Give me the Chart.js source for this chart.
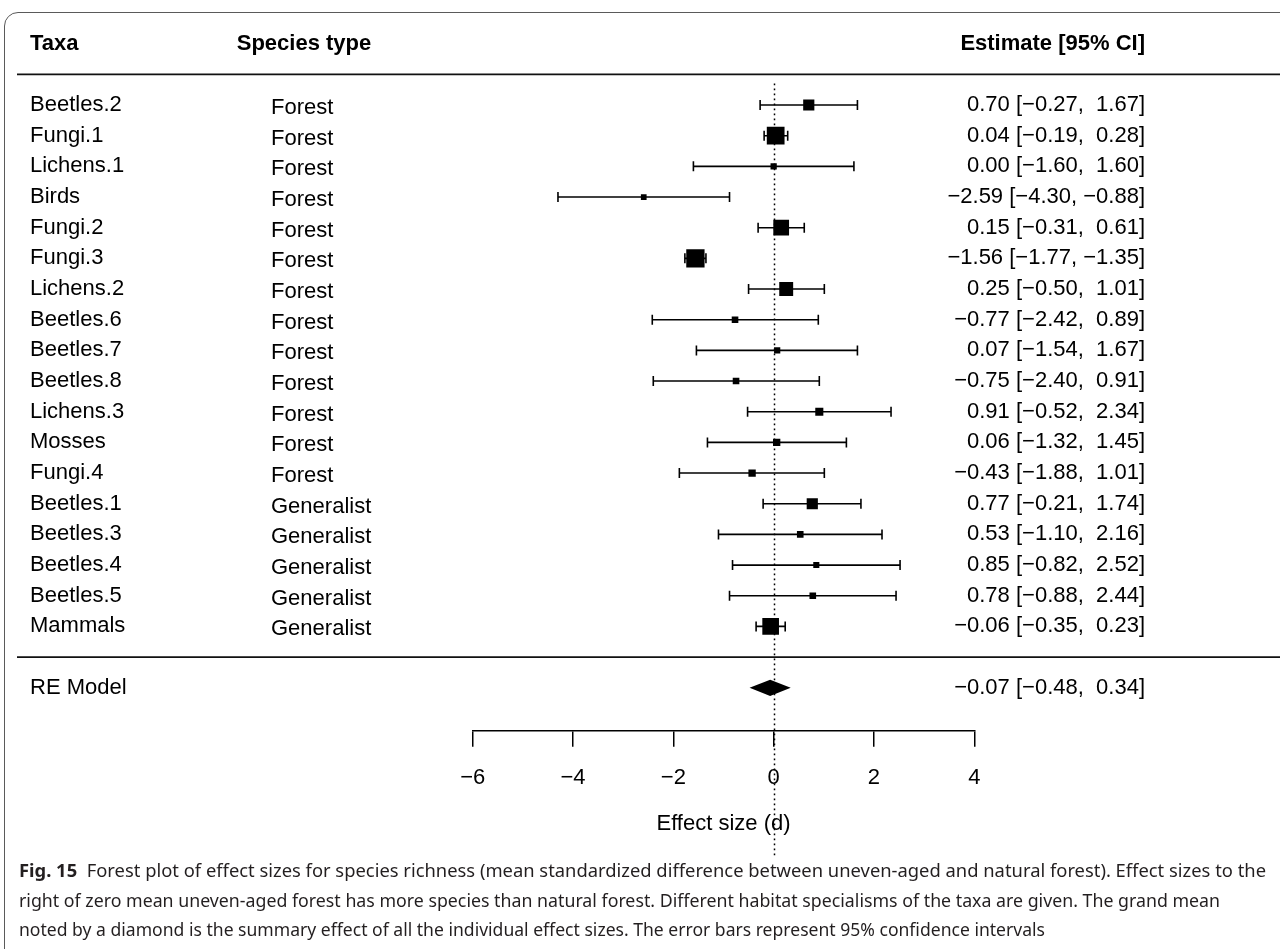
<!DOCTYPE html>
<html>
<head>
<meta charset="utf-8">
<title>Forest plot - species richness</title>
<script src="https://cdn.jsdelivr.net/npm/chart.js@4.4.1/dist/chart.umd.min.js"></script>
<style>
  html, body { margin: 0; padding: 0; background: #fff; overflow: hidden; }
  #page { position: relative; width: 1280px; height: 949px; overflow: hidden; background: #fff; }
  #frame { position: absolute; left: 4px; top: 12px; width: 1320px; height: 1000px;
           border: 1.5px solid #5a5a5a; border-radius: 14px; box-sizing: border-box; }
  #wrap { position: absolute; left: 0; top: 0; width: 1280px; height: 949px; }
  .cl { position: absolute; left: 19px; white-space: nowrap; font-family: "Noto Sans", sans-serif;
        font-size: 18px; line-height: 22px; color: #231f20; transform-origin: 0 50%; }
  .cl b { font-weight: 700; }
</style>
</head>
<body>
<div id="page">
  <div id="frame"></div>
  <div id="wrap"><canvas id="forest"></canvas></div>
  <div class="cl" data-w="1247" style="top:859px"><b>Fig. 15</b>&nbsp; Forest plot of effect sizes for species richness (mean standardized difference between uneven-aged and natural forest). Effect sizes to the</div>
  <div class="cl" data-w="1201" style="top:889px">right of zero mean uneven-aged forest has more species than natural forest. Different habitat specialisms of the taxa are given. The grand mean</div>
  <div class="cl" data-w="1026" style="top:918px">noted by a diamond is the summary effect of all the individual effect sizes. The error bars represent 95% confidence intervals</div>
</div>
<script>
// 各研究（上から順）
const taxa = ['Beetles.2', 'Fungi.1', 'Lichens.1', 'Birds', 'Fungi.2', 'Fungi.3', 'Lichens.2',
  'Beetles.6', 'Beetles.7', 'Beetles.8', 'Lichens.3', 'Mosses', 'Fungi.4',
  'Beetles.1', 'Beetles.3', 'Beetles.4', 'Beetles.5', 'Mammals'];
const speciesType = ['Forest', 'Forest', 'Forest', 'Forest', 'Forest', 'Forest', 'Forest',
  'Forest', 'Forest', 'Forest', 'Forest', 'Forest', 'Forest',
  'Generalist', 'Generalist', 'Generalist', 'Generalist', 'Generalist'];
const estimate = [0.70, 0.04, 0.00, -2.59, 0.15, -1.56, 0.25, -0.77, 0.07, -0.75, 0.91, 0.06, -0.43,
  0.77, 0.53, 0.85, 0.78, -0.06];
const ciLower = [-0.27, -0.19, -1.60, -4.30, -0.31, -1.77, -0.50, -2.42, -1.54, -2.40, -0.52, -1.32, -1.88,
  -0.21, -1.10, -0.82, -0.88, -0.35];
const ciUpper = [1.67, 0.28, 1.60, -0.88, 0.61, -1.35, 1.01, 0.89, 1.67, 0.91, 2.34, 1.45, 1.01,
  1.74, 2.16, 2.52, 2.44, 0.23];
// 重み（%、四角の大きさから読み取り）
const weights = [6.3, 9.9, 3.6, 3.3, 8.8, 10.2, 7.8, 3.8, 3.6, 3.8, 4.6, 4.2, 4.2,
  6.3, 3.8, 3.5, 3.8, 9.3];

// RE モデル（ダイヤ）
const summaryLabel = 'RE Model';
const summaryEstimate = -0.07;
const summaryLower = -0.48;
const summaryUpper = 0.34;

const xTicks = [-6, -4, -2, 0, 2, 4];
const headers = ['Taxa', 'Species type', 'Estimate [95% CI]'];
const xTitle = 'Effect size (d)';

// 書式（R の forest と同じ見た目）
const fmt = v => (v < 0 ? '\u2212' : '') + Math.abs(v).toFixed(2);
const pad = v => (v < 0 ? '' : ' ') + fmt(v);
const ciText = (e, l, h) => `${fmt(e)} [${pad(l)}, ${pad(h)}]`;

const FONT = '"Liberation Sans", Arial, sans-serif';
const summaryRow = taxa.length + 1;

// 四角のサイズ（重みを 0.5〜1.5 相当に線形で割り当て）
const wMin = Math.min(...weights), wMax = Math.max(...weights);
const squareSide = w => 5.7 + (w - wMin) / (wMax - wMin) * 12.6;

// テキスト列・区切り線・参照線・ダイヤ
const forestExtras = {
  id: 'forestExtras',
  beforeDatasetsDraw(chart) {
    const { ctx, scales: { x, y } } = chart;
    const x0 = Math.round(x.getPixelForValue(0)) + 0.5;
    ctx.save();
    ctx.strokeStyle = '#000';
    ctx.lineWidth = 1.5;
    ctx.setLineDash([1.6, 3.4]);
    ctx.beginPath();
    ctx.moveTo(x0, y.getPixelForValue(-0.7));
    ctx.lineTo(x0, y.getPixelForValue(24.55));
    ctx.stroke();
    ctx.restore();
  },
  afterDraw(chart) {
    const { ctx, scales: { x, y } } = chart;
    const colTaxa = 30, colTypeHead = 304, colType = 271, colEst = 1145;
    ctx.save();
    ctx.fillStyle = '#000';
    ctx.textBaseline = 'middle';

    // ヘッダー
    ctx.font = 'bold 22px ' + FONT;
    const yh = y.getPixelForValue(-2);
    ctx.textAlign = 'left'; ctx.fillText(headers[0], colTaxa, yh);
    ctx.textAlign = 'center'; ctx.fillText(headers[1], colTypeHead, yh);
    ctx.textAlign = 'right'; ctx.fillText(headers[2], colEst, yh);

    // 区切り線
    ctx.strokeStyle = '#111';
    ctx.lineWidth = 1.8;
    [-1, taxa.length].forEach(r => {
      const yy = y.getPixelForValue(r);
      ctx.beginPath(); ctx.moveTo(17, yy); ctx.lineTo(1280, yy); ctx.stroke();
    });

    // 各行
    ctx.font = '22px ' + FONT;
    taxa.forEach((t, i) => {
      const yy = y.getPixelForValue(i);
      ctx.textAlign = 'left'; ctx.fillText(t, colTaxa, yy);
      ctx.fillText(speciesType[i], colType, yy + 3);
      ctx.textAlign = 'right'; ctx.fillText(ciText(estimate[i], ciLower[i], ciUpper[i]), colEst, yy);
    });

    // RE Model
    const ys = y.getPixelForValue(summaryRow);
    ctx.textAlign = 'left'; ctx.fillText(summaryLabel, colTaxa, ys);
    ctx.textAlign = 'right'; ctx.fillText(ciText(summaryEstimate, summaryLower, summaryUpper), colEst, ys);

    const hh = y.getPixelForValue(summaryRow + 0.265) - ys;
    ctx.beginPath();
    ctx.moveTo(x.getPixelForValue(summaryLower), ys);
    ctx.lineTo(x.getPixelForValue(summaryEstimate), ys - hh);
    ctx.lineTo(x.getPixelForValue(summaryUpper), ys);
    ctx.lineTo(x.getPixelForValue(summaryEstimate), ys + hh);
    ctx.closePath();
    ctx.fill();
    ctx.restore();
  }
};

const datasets = [
  {
    label: 'Estimate',
    data: estimate.map((v, i) => ({ x: v, y: i })),
    showLine: false,
    pointStyle: 'rect',
    pointRadius: weights.map(w => squareSide(w) / Math.SQRT2),
    pointBackgroundColor: '#000',
    pointBorderWidth: 0
  },
  ...taxa.map((t, i) => ({
    label: t,
    data: [{ x: ciLower[i], y: i }, { x: ciUpper[i], y: i }],
    showLine: true,
    borderColor: '#000',
    borderWidth: 1.6,
    pointStyle: 'line',
    pointRotation: 90,
    pointRadius: 5,
    pointBorderColor: '#000',
    pointBorderWidth: 1.6
  }))
];

new Chart(document.getElementById('forest'), {
  type: 'scatter',
  data: { datasets },
  options: {
    responsive: true,
    maintainAspectRatio: false,
    animation: false,
    events: [],
    layout: { padding: { left: 472.7, right: 305.7, top: 13, bottom: 111.8 } },
    plugins: { legend: { display: false }, tooltip: { enabled: false } },
    scales: {
      x: {
        type: 'linear',
        position: 'bottom',
        min: xTicks[0],
        max: xTicks[xTicks.length - 1],
        afterBuildTicks: s => { s.ticks = xTicks.map(v => ({ value: v })); },
        afterFit: s => { s.height = 106.5; },
        ticks: {
          color: '#000',
          padding: 18,
          maxRotation: 0,
          font: { family: FONT, size: 22 },
          callback: v => (v < 0 ? '\u2212' + Math.abs(v) : String(v))
        },
        grid: { drawOnChartArea: false, drawTicks: true, tickLength: 16, color: '#000', lineWidth: 1.5 },
        border: { display: true, color: '#000', width: 1.5 },
        title: { display: true, text: xTitle, color: '#000', font: { family: FONT, size: 22 }, padding: { top: 0, bottom: 0 } }
      },
      y: {
        type: 'linear',
        display: false,
        reverse: true,
        min: -3,
        max: 20.4
      }
    }
  },
  plugins: [forestExtras]
});

// キャプションの幅合わせ
document.querySelectorAll('.cl').forEach(el => {
  const w = el.getBoundingClientRect().width;
  el.style.transform = `scaleX(${Number(el.dataset.w) / w})`;
});
</script>
</body>
</html>
